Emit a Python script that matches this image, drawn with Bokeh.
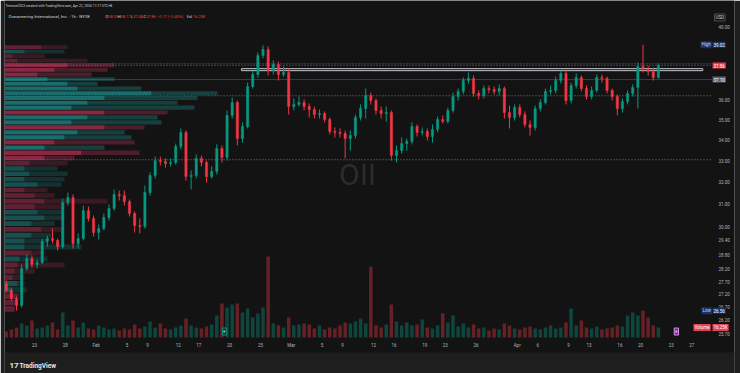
import numpy as np
from bokeh.plotting import figure
from bokeh.models import (Range1d, LinearScale, FixedTicker, NumeralTickFormatter,
                          Label, ColumnDataSource, BoxAnnotation)
from bokeh.embed import file_html
from bokeh.resources import INLINE

# ---------------- data (OII, 1h chart, aggregated to 2 bars per trading day) ----------------
BARS_PER_DAY = 2
opens = [27.63, 27.35, 27.03, 26.76, 28.23, 28.64, 28.40, 28.48, 29.36, 29.48,
         29.40, 29.14, 31.06, 31.28, 29.27, 29.48, 30.70, 30.35, 29.74, 29.91,
         30.39, 30.79, 31.42, 31.37, 31.10, 30.57, 30.04, 30.00, 31.51, 32.30,
         33.00, 32.96, 32.86, 32.91, 33.68, 34.37, 32.25, 32.30, 33.10, 32.91,
         32.25, 32.48, 33.58, 33.15, 35.22, 35.89, 34.07, 34.67, 36.73, 37.37,
         38.41, 38.75, 37.59, 37.92, 37.37, 37.48, 35.68, 35.79, 35.89, 35.68,
         35.53, 35.27, 35.32, 35.02, 34.42, 34.37, 34.32, 34.07, 34.22, 35.12,
         35.58, 36.26, 35.99, 35.48, 35.32, 35.37, 33.24, 33.48, 33.82, 33.92,
         34.67, 34.37, 34.42, 34.17, 34.52, 35.02, 34.92, 35.48, 36.20, 36.47,
         37.05, 37.16, 36.36, 36.26, 36.62, 36.57, 36.47, 36.62, 35.37, 35.12,
         35.63, 35.27, 34.77, 34.62, 35.58, 35.89, 36.47, 36.52, 37.05, 37.43,
         35.99, 36.78, 37.21, 36.62, 36.20, 36.52, 37.21, 37.16, 36.52, 36.20,
         35.58, 35.94, 36.36, 36.68, 37.81, 37.64, 37.53, 37.21]
highs = [27.75, 27.43, 27.11, 28.40, 28.81, 28.77, 28.60, 29.48, 29.61, 29.91,
         29.48, 31.24, 31.51, 31.42, 29.70, 30.92, 30.88, 30.48, 30.09, 30.57,
         30.97, 31.65, 31.60, 31.60, 31.19, 30.66, 30.35, 31.83, 32.44, 33.19,
         33.19, 33.10, 33.10, 33.82, 34.57, 34.47, 32.53, 33.29, 33.24, 33.00,
         32.72, 33.78, 33.73, 35.48, 36.15, 35.99, 34.87, 36.94, 37.59, 38.58,
         38.97, 38.92, 38.14, 38.08, 37.81, 37.70, 36.10, 36.20, 36.05, 35.84,
         35.68, 35.53, 35.43, 35.12, 34.62, 34.57, 34.47, 34.47, 35.27, 35.79,
         36.62, 36.41, 36.10, 35.68, 35.68, 35.48, 33.73, 34.12, 34.07, 34.87,
         34.77, 34.62, 34.57, 34.77, 35.17, 35.22, 35.63, 36.41, 36.62, 37.21,
         37.48, 37.32, 36.52, 36.78, 36.78, 36.73, 36.84, 36.73, 35.73, 35.79,
         35.79, 35.43, 34.97, 35.73, 36.05, 36.62, 36.78, 37.26, 37.59, 37.59,
         36.94, 37.43, 37.32, 36.78, 36.73, 37.37, 37.37, 37.26, 36.62, 36.31,
         36.10, 36.52, 36.84, 38.03, 39.02, 37.86, 37.75, 37.97]
lows = [27.27, 26.96, 26.56, 26.68, 28.15, 28.27, 28.23, 28.40, 29.14, 29.27,
        28.98, 29.06, 30.92, 29.06, 29.06, 29.40, 30.22, 29.57, 29.44, 29.83,
        30.26, 30.70, 31.15, 30.92, 30.44, 29.74, 29.70, 29.91, 31.37, 32.16,
        32.77, 32.67, 32.72, 32.81, 33.53, 32.06, 31.65, 32.16, 32.72, 31.97,
        32.16, 32.34, 32.91, 33.00, 35.07, 33.73, 33.87, 34.57, 36.62, 37.21,
        38.25, 37.32, 37.37, 37.05, 37.26, 35.27, 35.48, 35.68, 35.48, 35.12,
        35.07, 35.07, 34.87, 34.27, 34.12, 34.12, 33.10, 33.48, 34.07, 34.97,
        35.07, 35.79, 35.27, 35.07, 34.92, 33.00, 32.91, 33.34, 33.48, 33.78,
        34.17, 34.22, 33.97, 33.87, 34.37, 34.82, 34.82, 35.37, 35.99, 36.31,
        36.89, 36.20, 36.05, 36.10, 36.36, 36.31, 36.26, 35.07, 34.57, 34.97,
        35.12, 34.62, 34.22, 34.47, 35.43, 35.79, 36.31, 36.36, 36.89, 35.79,
        35.84, 36.62, 36.47, 36.05, 36.05, 36.41, 36.94, 36.36, 35.99, 35.22,
        35.37, 35.79, 36.20, 35.58, 37.48, 37.32, 37.05, 37.16]
closes = [27.35, 27.03, 26.76, 28.23, 28.64, 28.40, 28.48, 29.36, 29.48, 29.40,
          29.14, 31.06, 31.28, 29.27, 29.48, 30.70, 30.35, 29.74, 29.91, 30.39,
          30.79, 31.42, 31.37, 31.10, 30.57, 30.04, 30.00, 31.51, 32.30, 33.00,
          32.96, 32.86, 32.91, 33.68, 34.37, 32.25, 32.30, 33.10, 32.91, 32.25,
          32.48, 33.58, 33.15, 35.22, 35.89, 34.07, 34.67, 36.73, 37.37, 38.41,
          38.75, 37.59, 37.92, 37.37, 37.48, 35.68, 35.79, 35.89, 35.68, 35.53,
          35.27, 35.32, 35.02, 34.42, 34.37, 34.32, 34.07, 34.22, 35.12, 35.58,
          36.26, 35.99, 35.48, 35.32, 35.37, 33.24, 33.48, 33.82, 33.92, 34.67,
          34.37, 34.42, 34.17, 34.52, 35.02, 34.92, 35.48, 36.20, 36.47, 37.05,
          37.16, 36.36, 36.26, 36.62, 36.57, 36.47, 36.62, 35.37, 35.12, 35.63,
          35.27, 34.77, 34.62, 35.58, 35.89, 36.47, 36.52, 37.05, 37.43, 35.99,
          36.78, 37.21, 36.62, 36.20, 36.52, 37.21, 37.16, 36.52, 36.20, 35.58,
          35.94, 36.36, 36.68, 37.81, 37.64, 37.53, 37.21, 37.86]
volumes_k = [18, 24, 30, 42, 36, 51, 27, 30, 36, 45,
             24, 75, 36, 51, 30, 45, 27, 24, 36, 30,
             24, 27, 21, 27, 24, 39, 27, 33, 48, 30,
             42, 27, 24, 30, 36, 57, 36, 30, 27, 33,
             39, 66, 102, 90, 99, 102, 75, 87, 60, 72,
             90, 243, 42, 36, 30, 60, 36, 39, 42, 39,
             27, 36, 24, 30, 27, 36, 45, 42, 48, 57,
             42, 213, 36, 30, 39, 99, 48, 36, 45, 36,
             39, 54, 30, 27, 36, 72, 45, 66, 33, 42,
             30, 39, 27, 30, 21, 27, 24, 42, 36, 27,
             24, 30, 33, 27, 24, 30, 36, 27, 30, 45,
             87, 36, 51, 30, 27, 33, 24, 27, 30, 36,
             33, 66, 75, 66, 81, 60, 36, 30]

# trading-day index (0 = Jan 20, 2026) of each time-axis label
day_ticks = [3, 6, 9, 12, 14, 17, 19, 22, 25, 28, 31, 33, 36, 38, 41, 43, 46,
             50, 52, 55, 57, 60, 62, 65, 67]
day_tick_labels = ["23", "28", "Feb", "5", "9", "12", "17", "20", "25", "Mar", "5", "9",
                   "12", "16", "19", "23", "26", "Apr", "6", "9", "13", "16", "20", "23", "27"]
price_ticks = [25.7, 26.2, 26.7, 27.2, 27.7, 28.2, 28.8, 29.4, 30.0, 31.0, 32.0,
               33.0, 34.0, 35.0, 36.0, 40.0]

# visible-range volume profile: 0.25 price rows from 26.50 up
vp_row_low = list(np.round(np.arange(26.5, 39.0, 0.25), 2))
vp_total = [100, 130, 150, 220, 200, 200, 300, 600, 430, 400,
            770, 430, 470, 570, 500, 600, 570, 600, 1030, 500,
            430, 570, 600, 630, 530, 630, 700, 1350, 1000, 1300,
            1270, 1200, 1400, 1570, 1530, 1630, 1900, 1730, 1930, 2130,
            1370, 930, 1100, 870, 1030, 1100, 830, 400, 600, 630]
vp_inner = [100, 100, 130, 80, 130, 80, 100, 130, 150, 270,
            200, 200, 270, 370, 270, 400, 330, 300, 400, 300,
            200, 330, 200, 250, 200, 250, 400, 770, 400, 500,
            600, 730, 1000, 670, 830, 1000, 670, 830, 1000, 1470,
            730, 630, 430, 330, 500, 630, 130, 80, 200, 370]
vp_side = ["d", "d", "d", "u", "u", "d", "d", "d", "u", "d",
           "u", "u", "u", "d", "u", "u", "u", "d", "d", "d",
           "d", "u", "u", "u", "u", "d", "d", "d", "u", "d",
           "u", "u", "d", "u", "u", "d", "u", "u", "u", "u",
           "u", "u", "u", "d", "d", "d", "d", "d", "u", "d"]

poc_price, vah_price, val_price = 36.24, 37.95, 33.04
last_price, prev_close = 37.86, 37.10
range_high, range_low = 39.02, 26.56
zone_days = (23.15, 68.07)
zone_prices = (37.58, 37.69)
earnings_days = [21, 65]

UP, DOWN = "#089981", "#f23645"
TEXT = "#b2b5be"
FONT = "Roboto"
PANE_BG = "#131313"
PANE_RIGHT_DAY = 69.0     # where the candle pane meets the price scale

# ---------------- figure ----------------
p = figure(width=740, height=373, output_backend="svg", toolbar_location=None,
           y_axis_type="log", y_axis_location="right",
           x_range=Range1d(0.078, 71.16), y_range=Range1d(24.257, 41.592),
           min_border_left=4, min_border_right=6, min_border_top=0, min_border_bottom=0,
           background_fill_color=PANE_BG, border_fill_color="#1e1e1e",
           outline_line_color=None)
p.extra_y_ranges = {"vol": Range1d(-108, 1011)}
p.extra_y_scales = {"vol": LinearScale()}
p.extra_x_ranges = {"vp": Range1d(0, 7300)}
p.extra_x_scales = {"vp": LinearScale()}
p.xgrid.visible = False
p.ygrid.visible = False

# footer band
p.add_layout(BoxAnnotation(bottom=0, top=21, bottom_units="screen", top_units="screen",
                           fill_color="#1e1e1e", fill_alpha=1.0, line_color=None, level="underlay"))

# volume profile
vp_lo = [v + 0.02 for v in vp_row_low]
vp_hi = [v + 0.23 for v in vp_row_low]
in_va = [val_price <= (v + 0.125) <= vah_price for v in vp_row_low]
vp_src = ColumnDataSource(dict(
    bottom=vp_lo, top=vp_hi, inner=vp_inner, total=vp_total,
    color=["#1fa5a5" if s == "u" else "#d03560" for s in vp_side],
    a_in=[0.62 if v else 0.42 for v in in_va],
    a_out=[0.30 if v else 0.2 for v in in_va]))
p.quad(left=0, right="inner", bottom="bottom", top="top", fill_color="color",
       fill_alpha="a_in", line_color=None, x_range_name="vp", source=vp_src)
p.quad(left="inner", right="total", bottom="bottom", top="top", fill_color="color",
       fill_alpha="a_out", line_color=None, x_range_name="vp", source=vp_src)

# reference lines (profile levels, previous close)
x0 = p.x_range.start
for price, col, dash, alpha in [(poc_price, "#9598a1", "1 2", 0.8), (vah_price, "#9598a1", "1 2", 0.8),
                                (val_price, "#9598a1", "1 2", 0.8), (prev_close, "#3a3d45", "solid", 1.0)]:
    p.segment(x0=[x0], y0=[price], x1=[PANE_RIGHT_DAY], y1=[price], line_color=col,
              line_dash=dash, line_width=1, line_alpha=alpha, level="underlay")

# rectangle zone
p.quad(left=[zone_days[0]], right=[zone_days[1]], bottom=[zone_prices[0]], top=[zone_prices[1]],
       fill_color="#b2b5be", fill_alpha=0.08, line_color="#c3c6ce", line_width=1)

# candles + volume
n = len(closes)
xs = [i / BARS_PER_DAY + 0.25 for i in range(n)]
cols = [UP if c >= o else DOWN for o, c in zip(opens, closes)]
src = ColumnDataSource(dict(x=xs, open=opens, high=highs, low=lows, close=closes,
                            top=[max(o, c) for o, c in zip(opens, closes)],
                            bottom=[min(o, c) for o, c in zip(opens, closes)],
                            color=cols, vol=volumes_k))
p.vbar(x="x", width=0.34, top="vol", bottom=0, fill_color="color", fill_alpha=0.38,
       line_color=None, y_range_name="vol", source=src)
p.segment(x0="x", y0="low", x1="x", y1="high", line_color="color", line_width=1, source=src)
p.vbar(x="x", width=0.22, top="top", bottom="bottom", fill_color="color", line_color="color",
       line_width=0.5, source=src)

# last-price line
p.segment(x0=[x0], y0=[last_price], x1=[PANE_RIGHT_DAY], y1=[last_price], line_color=DOWN,
          line_dash="1 2", line_width=1, line_alpha=0.85)

# axes (labels drawn back inside the pane, like TradingView's overlay scales)
p.xaxis.ticker = FixedTicker(ticks=day_ticks, minor_ticks=[])
p.xaxis.major_label_overrides = {t: l for t, l in zip(day_ticks, day_tick_labels)}
p.yaxis.ticker = FixedTicker(ticks=price_ticks, minor_ticks=[])
p.yaxis.formatter = NumeralTickFormatter(format="0.00")
for ax in (p.xaxis[0], p.yaxis[0]):
    ax.axis_line_color = None
    ax.major_tick_line_color = None
    ax.minor_tick_line_color = None
    ax.major_label_text_color = TEXT
    ax.major_label_text_font = FONT
    ax.major_label_text_font_size = "4.5px"
p.xaxis.major_label_standoff = -37
p.yaxis.major_label_standoff = -22


def tag(text, x, y, bg=None, color="#ffffff", y_units="data", x_units="screen",
        size="4.5px", align="left", border=None, style="normal", alpha=1.0):
    lab = Label(x=x, y=y, x_units=x_units, y_units=y_units, text=text, text_color=color,
                text_font=FONT, text_font_size=size, text_align=align, text_baseline="middle",
                text_font_style=style, text_alpha=alpha,
                background_fill_color=bg, border_line_color=border, padding=1)
    p.add_layout(lab)


# price-scale tags
tag("USD", 710, 356, bg=PANE_BG, color="#d1d4dc", y_units="screen", border="#4a4d55")
tag("High", 696, range_high, bg="#1b3266", color="#c8d6ff")
tag("39.02", 708, range_high, bg="#1b3266", color="#ffffff")
tag("37.86", 708, last_price, bg=DOWN)
tag("37.10", 708, prev_close, bg="#5d606b")
tag("Low", 697, range_low, bg="#1b3266", color="#c8d6ff")
tag("26.56", 708, range_low, bg="#1b3266")
tag("Volume", 689, 46, bg="#e04455", y_units="screen")
tag("16.25K", 708, 46, bg="#e04455", y_units="screen")

# earnings markers
for d, bg, bc in zip(earnings_days, ["#0d2b27", "#7b1fa2"], [UP, "#ce93d8"]):
    tag("E", d + 0.5, 42, bg=bg, color="#ffffff", x_units="data", y_units="screen",
        size="4px", border=bc, align="center")

# header, legend, watermark, footer logo
tag("Terence2023 created with TradingView.com, Apr 22, 2026 11:17 UTC+8", 0, 368,
    y_units="screen", color="#d1d4dc", size="3.4px")
tag("Oceaneering International, Inc. · 1h · NYSE", 3, 357, y_units="screen",
    color="#d1d4dc", size="4.4px")
legend_tokens = [("O", 100, "#d1d4dc"), ("38.05", 102.8, DOWN), ("H", 112.5, "#d1d4dc"),
                 ("38.11", 115.4, DOWN), ("L", 125.5, "#d1d4dc"), ("37.48", 127.7, DOWN),
                 ("C", 138, "#d1d4dc"), ("37.86", 140.7, DOWN), ("−0.17 (−0.45%)", 151.5, DOWN),
                 ("Vol", 181, "#d1d4dc"), ("16.25K", 187.5, DOWN)]
for t, xx, c in legend_tokens:
    tag(t, xx, 357, y_units="screen", color=c, size="3.9px")
tag("OII", 353, 199, y_units="screen", color="#2c2c2c", size="30px", align="center")
tag("17", 4, 8, y_units="screen", color="#e8e8e8", size="8px", style="bold")
tag("TradingView", 14, 8, y_units="screen", color="#e8e8e8", size="6.5px", style="bold")

open("out.html", "w").write(file_html(p, INLINE))
